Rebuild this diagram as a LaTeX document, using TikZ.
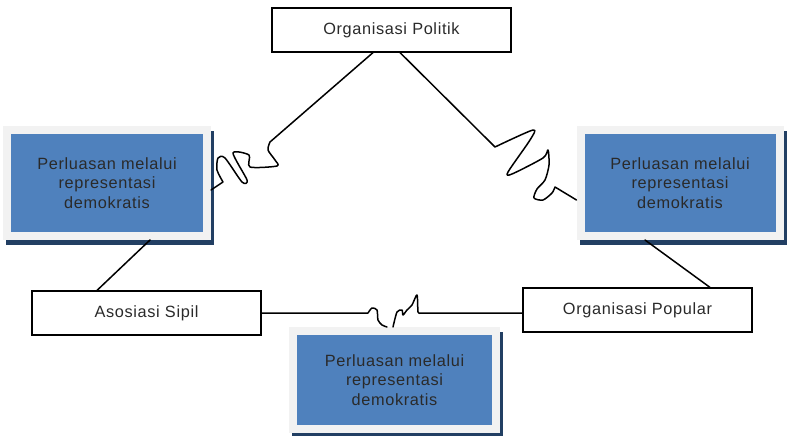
\documentclass[tikz,border=0pt]{standalone}
\usepackage{fontspec}
\setmainfont{Liberation Sans}[LetterSpace=4]
\usetikzlibrary{positioning}
\usetikzlibrary{backgrounds}
\definecolor{boxblue}{HTML}{4F81BD}
\definecolor{boxframe}{HTML}{F2F2F2}
\definecolor{boxshade}{HTML}{223F63}
\definecolor{txtgray}{HTML}{2A2A2A}

\begin{document}
\begin{tikzpicture}[x=1pt,y=-1pt,
    org/.style={draw,line width=1.2pt,fill=white,minimum width=229pt,minimum height=44pt,text=txtgray,font=\fontsize{16.3}{19}\selectfont},
    ext/.style={draw=boxframe,line width=8pt,fill=boxblue,align=center,text=txtgray,font=\fontsize{16.3}{19.8}\selectfont},
    link/.style={line width=1.5pt,line join=round,line cap=round}]
  \useasboundingbox (0,0) rectangle (790,436);
  \node[org,minimum width=239pt] (pol) at (391.5,30) {Organisasi Politik};
  \node[org] (asos) at (146.5,313) {Asosiasi Sipil};
  \node[org] (pop) at (637.5,310) {Organisasi Popular};
  \node[ext,minimum width=200pt,minimum height=106pt] (L) at (107,183) {Perluasan melalui\\representasi\\demokratis};
  \node[ext,minimum width=199pt,minimum height=106pt] (R) at (680,183) {Perluasan melalui\\representasi\\demokratis};
  \node[ext,minimum width=203pt,minimum height=98pt] (B) at (394.5,380) {Perluasan melalui\\representasi\\demokratis};
  \begin{scope}[on background layer]
    \foreach \b in {L,R,B}
      \fill[boxshade] ([shift={(3pt,-5pt)}]\b.north west) rectangle ([shift={(3pt,-5pt)}]\b.south east);
  \end{scope}
  \draw[link] ([xshift=-18.5pt]pol.south) -- plot[smooth,tension=.45] coordinates {(270,142) (268,150) (275,160) (277,166) (250,167) (249,155) (233,153) (247,180) (242,182) (225,158) (218,158) (217,170) (223,182)} -- ([yshift=-7pt]L.east);
  \draw[link] ([xshift=8.5pt]pol.south) -- plot[smooth,tension=.45] coordinates {(495,147) (533,130) (530,140) (508,172) (512,174) (543,158) (548,150) (549,165) (545,180) (537,189) (534,198) (543,200) (552,193) (555,187)} -- ([yshift=-17pt]R.west);
  \draw[link] (asos.east) -- plot[smooth,tension=.45] coordinates {(368,313) (372,308) (377,310) (378,320) (382,325) (387,327)};
  \draw[link] plot[smooth,tension=.45] coordinates {(393,327) (397,312) (402,310) (403,315) (407,310) (412,305) (417,295) (418,312) (420,313)} -- ([yshift=-3pt]pop.west);
  \draw[link] ([xshift=43pt]L.south) -- ([xshift=-49.5pt]asos.north);
  \draw[link] ([xshift=-35pt]R.south) -- ([xshift=72.5pt]pop.north);
\end{tikzpicture}
\end{document}
